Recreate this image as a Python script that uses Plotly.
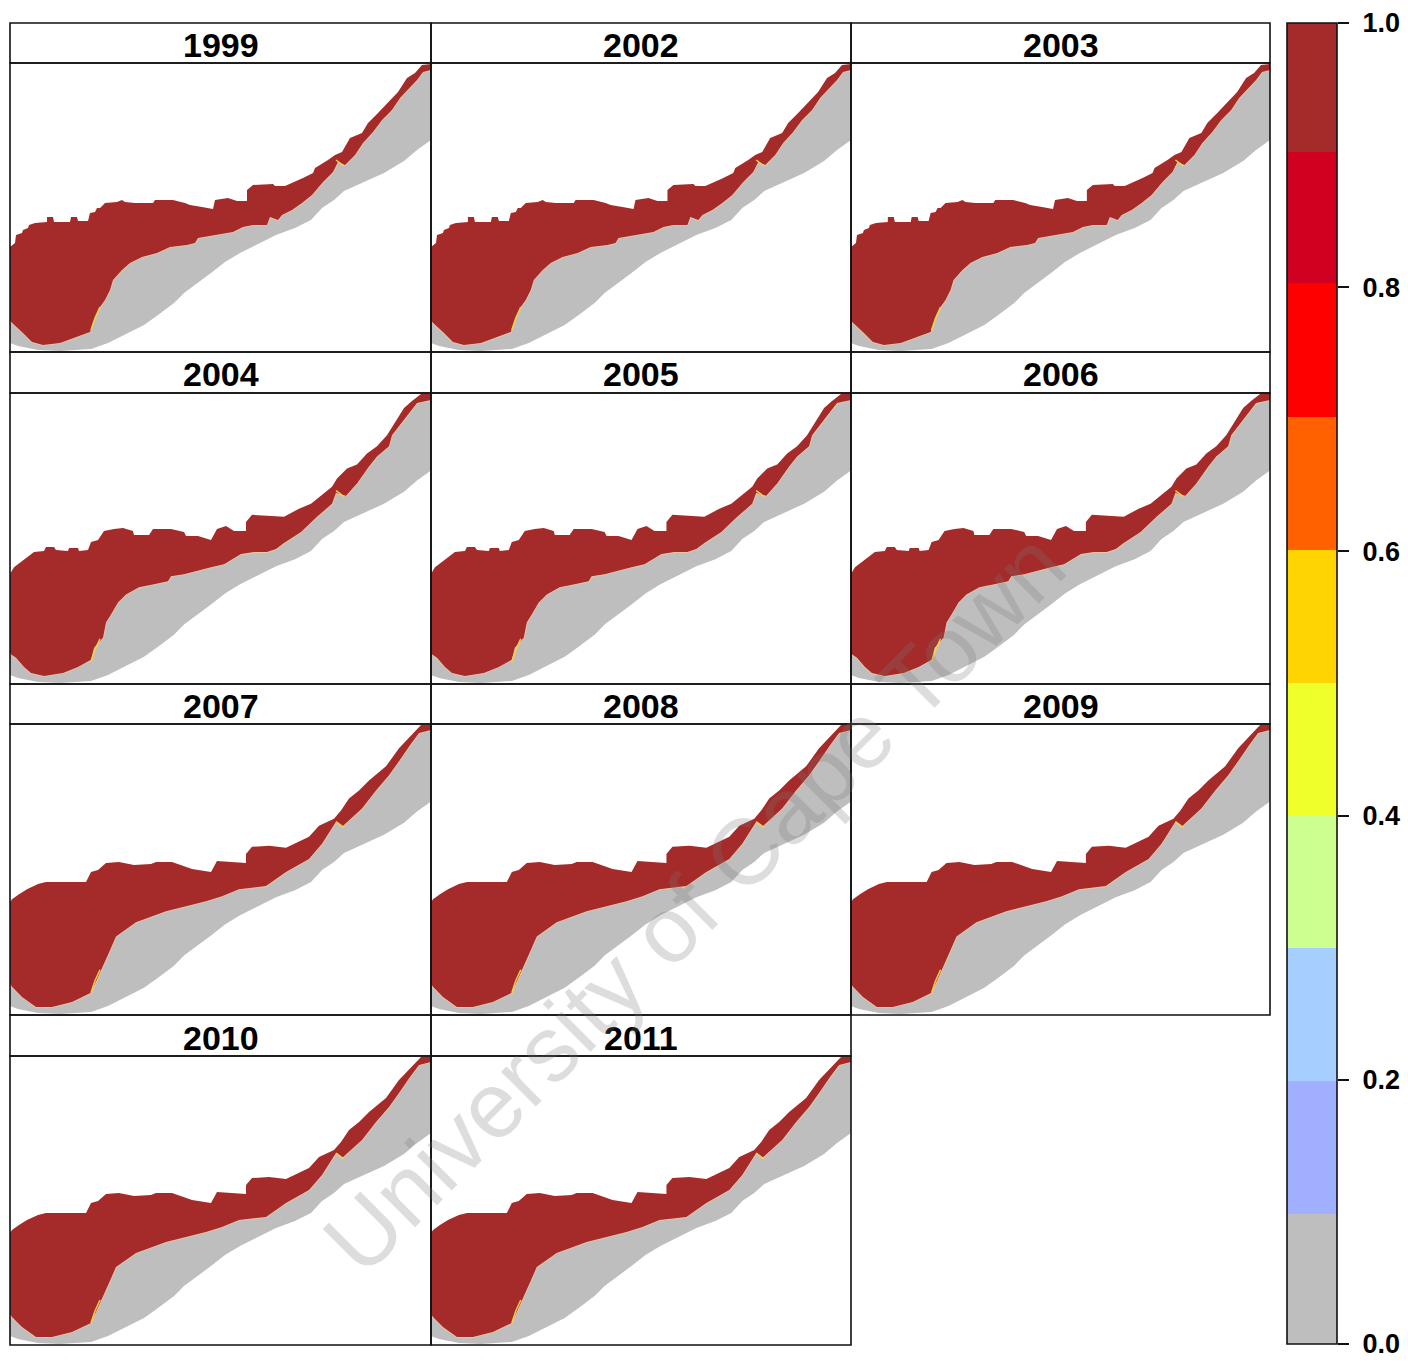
import plotly.graph_objects as go

W, H = 1408, 1362
years = [1999, 2002, 2003, 2004, 2005, 2006, 2007, 2008, 2009, 2010, 2011]
group_a = [1999, 2002, 2003]
group_b = [2004, 2005, 2006]

# Map outlines (map units, x 0-421, y 0-289)
red_top_a = [(0,105),(2,107),(5,109),(6,117),(12,119),(13,122),(18,124),(19,127),(25,129),(37,130),(37,135),(43,135),(44,130),(55,130),(60,130),(61,135),(67,135),(68,131),(78,131),(80,139),(85,140),(87,144),(90,144),(95,149),(107,150),(112,152),(115,150),(125,149),(143,149),(145,152),(163,152),(175,149),(180,147),(192,145),(203,143),(205,152),(218,154),(227,151),(237,151),(237,162),(243,167),(263,168),(265,166),(275,166),(282,169),(293,174),(303,179),(305,184),(318,192),(325,197),(332,200),(340,214),(352,219),(358,229),(368,239),(378,249),(388,260),(397,274),(405,279),(412,287),(421,288)]
red_bottom_a = [(421,282),(413,280),(407,272),(400,265),(390,254),(382,242),(372,232),(363,220),(353,209),(345,197),(335,187),(328,190),(323,180),(313,170),(302,157),(292,149),(282,142),(272,137),(268,132),(260,135),(257,127),(243,127),(233,125),(223,120),(203,117),(188,114),(185,109),(177,107),(160,105),(147,99),(132,95),(120,89),(112,82),(103,72),(100,62),(95,52),(90,45),(85,34),(80,20),(67,15),(50,9),(33,7),(22,10),(13,19),(7,25),(2,30),(0,31)]
red_top_b = [(0,110),(1,111),(4,116),(11,121),(18,126),(24,131),(34,132),(36,136),(44,136),(46,133),(58,132),(59,135),(68,135),(69,132),(78,133),(81,141),(88,143),(94,152),(104,154),(113,155),(123,152),(124,148),(139,148),(143,154),(161,154),(174,151),(176,147),(188,147),(201,143),(207,154),(216,157),(224,152),(236,152),(236,161),(242,168),(262,167),(274,166),(289,174),(301,179),(322,196),(327,204),(337,214),(347,218),(357,229),(367,236),(377,247),(386,262),(394,274),(402,281),(411,288),(421,289)]
red_bottom_b = [(421,282),(407,279),(397,266),(389,256),(382,247),(379,236),(367,226),(359,216),(347,199),(336,187),(331,188),(326,190),(322,179),(307,166),(291,151),(274,140),(266,134),(257,131),(244,131),(231,129),(214,119),(201,116),(184,112),(174,109),(161,107),(158,102),(144,99),(129,96),(116,89),(108,81),(101,69),(96,61),(93,46),(84,36),(81,24),(68,17),(53,11),(34,8),(21,11),(14,17),(6,26),(1,29),(0,30)]
red_top_c = [(0,112),(2,115),(9,120),(17,125),(28,130),(36,132),(57,132),(76,132),(81,142),(88,144),(96,151),(109,152),(124,149),(141,150),(146,152),(162,152),(182,145),(201,142),(207,153),(222,152),(236,151),(236,160),(242,167),(259,168),(276,166),(299,177),(309,188),(324,195),(331,203),(339,215),(349,223),(359,233),(376,247),(389,265),(401,278),(411,288),(421,288)]
red_bottom_c = [(421,283),(409,280),(400,268),(389,252),(379,238),(366,223),(352,205),(332,187),(326,192),(312,170),(299,155),(276,142),(262,132),(256,128),(229,125),(212,118),(196,113),(172,107),(156,103),(126,92),(106,78),(99,62),(91,45),(81,22),(62,13),(42,8),(26,8),(12,18),(2,28),(0,31)]
grey_lower = [(0,31),(0,9),(8,6),(18,4),(28,2),(50,1),(81,3),(98,9),(118,19),(134,27),(148,37),(164,49),(174,59),(188,69),(201,79),(215,90),(230,99),(244,106),(266,117),(285,124),(301,132),(312,144),(324,152),(334,161),(357,171),(374,179),(394,191),(407,202),(421,212),(421,282)]
yellow_edge = [(90,45),(85,34),(81,22)]
yellow_spot = [(326,192),(330,189),(334,186)]

# Legend bar
bar_edges = [0.0,0.0984,0.1991,0.2998,0.4005,0.5004,0.601,0.7017,0.8032,0.9024,1.0]
bar_colors = ["#BEBEBE","#A0AFFF","#A6CEFF","#CCFF8F","#EEFF2A","#FFD400","#FF6000","#FF0000","#D20020","#A52A2A"]
bar_ticks = [0.0,0.2,0.4,0.6,0.8,1.0]
watermark = "University of Cape Town"

cols = [10, 431, 851, 1270]
rows = [(23,63,352),(352,393,684),(684,724,1015),(1015,1056,1345)]

fx = lambda p: p / W
fy = lambda p: 1 - p / H
LINE = "#111111"
FONT = "Liberation Sans"

def poly(points, xa, ya, **kw):
    return go.Scatter(x=[p[0] for p in points], y=[p[1] for p in points], xaxis=xa, yaxis=ya, hoverinfo="skip", **kw)

fig = go.Figure()
shapes, annos = [], []
layout = {}
for i, year in enumerate(years):
    r, c = divmod(i, 3)
    k = i + 1
    xa, ya = f"x{k}", f"y{k}"
    top, mid, bot = rows[r]
    layout[f"xaxis{k}"] = dict(domain=[fx(cols[c]), fx(cols[c+1])], range=[0,421], visible=False, anchor=ya, automargin=False)
    layout[f"yaxis{k}"] = dict(domain=[fy(bot), fy(mid)], range=[0,289], visible=False, anchor=xa, automargin=False)
    if year in group_a:
        rtop, rbot = red_top_a, red_bottom_a
    elif year in group_b:
        rtop, rbot = red_top_b, red_bottom_b
    else:
        rtop, rbot = red_top_c, red_bottom_c
    fig.add_trace(poly(grey_lower + rbot, xa, ya, mode="lines", fill="toself", fillcolor="#BEBEBE", line=dict(width=0)))
    fig.add_trace(poly(rbot, xa, ya, mode="lines", line=dict(width=1.6, color="#F3C6A4")))
    fig.add_trace(poly(rtop + rbot, xa, ya, mode="lines", fill="toself", fillcolor="#A52A2A", line=dict(width=0)))
    fig.add_trace(poly(yellow_edge, xa, ya, mode="lines", line=dict(width=1.5, color="#F2D24A")))
    fig.add_trace(poly(yellow_spot, xa, ya, mode="lines", line=dict(width=1.5, color="#F2D24A")))
    for y0, y1 in ((top, mid), (mid, bot)):
        shapes.append(dict(type="rect", xref="paper", yref="paper", x0=fx(cols[c]), x1=fx(cols[c+1]), y0=fy(y1), y1=fy(y0), line=dict(color=LINE, width=1.6), layer="above"))
    annos.append(dict(text=str(year), xref="paper", yref="paper", x=fx((cols[c]+cols[c+1])/2), y=fy((top+mid)/2+2), xanchor="center", yanchor="middle", showarrow=False, font=dict(family=FONT, size=34, color="black", weight="bold")))

# Legend axis
heights = [b - a for a, b in zip(bar_edges[:-1], bar_edges[1:])]
fig.add_trace(go.Bar(x=[0.5]*len(heights), y=heights, base=bar_edges[:-1], width=1, marker=dict(color=bar_colors, line=dict(width=0)), xaxis="x12", yaxis="y12", hoverinfo="skip"))
layout["xaxis12"] = dict(domain=[fx(1287), fx(1337)], range=[0,1], visible=False, anchor="y12", automargin=False)
layout["yaxis12"] = dict(domain=[fy(1344), fy(23)], range=[0,1], anchor="x12", side="right", automargin=False, tickmode="array", tickvals=bar_ticks, ticktext=[f"{t:.1f}" for t in bar_ticks], ticks="outside", ticklen=11, tickwidth=2, tickcolor=LINE, ticklabelstandoff=8, showgrid=False, zeroline=False, showline=False, tickfont=dict(family=FONT, size=27, color="black", weight="bold"))
shapes.append(dict(type="rect", xref="paper", yref="paper", x0=fx(1287), x1=fx(1337), y0=fy(1344), y1=fy(23), line=dict(color=LINE, width=1.6), layer="above"))

annos.append(dict(text=watermark, xref="paper", yref="paper", x=fx(694), y=fy(903), xanchor="center", yanchor="middle", textangle=-45, showarrow=False, font=dict(family=FONT, size=93, color="rgba(120,120,120,0.25)")))

fig.update_layout(width=W, height=H, margin=dict(l=0,r=0,t=0,b=0,autoexpand=False), paper_bgcolor="white", plot_bgcolor="white", showlegend=False, shapes=shapes, annotations=annos, **layout)
fig.write_html("out.html", post_script="document.body.style.margin='0';document.body.style.overflow='hidden';", config={"displayModeBar": False})
